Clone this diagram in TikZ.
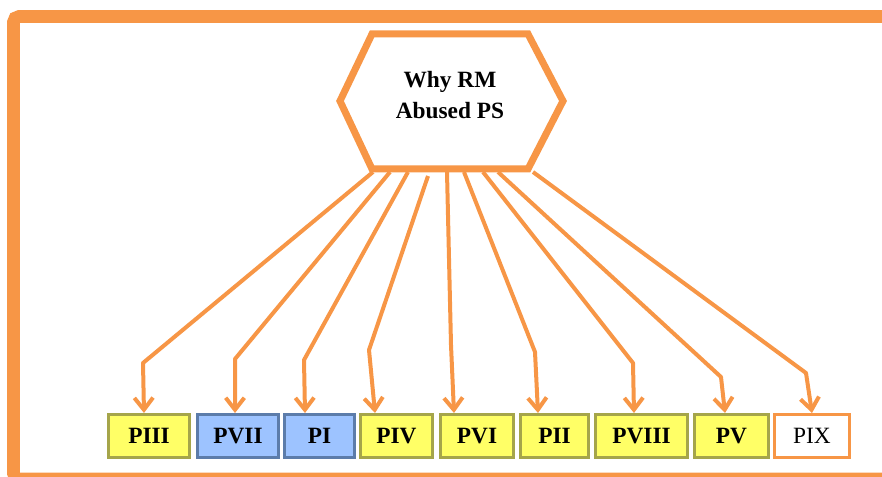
\documentclass[tikz,border=0pt]{standalone}
\usepackage{fontspec}
\setmainfont{Liberation Serif}
\usetikzlibrary{arrows.meta}
\definecolor{orng}{HTML}{F79646}
\definecolor{yfill}{HTML}{FFFF66}
\definecolor{ydraw}{HTML}{A5A54A}
\definecolor{bfill}{HTML}{9DC3FF}
\definecolor{bdraw}{HTML}{5C7CAA}
\tikzset{
  box/.style={draw, line width=2.25pt, inner sep=0pt, minimum height=32.25pt,
    font=\fontsize{17.5}{19}\selectfont\bfseries},
  ybox/.style={box, fill=yfill, draw=ydraw},
  bbox/.style={box, fill=bfill, draw=bdraw},
  wbox/.style={box, fill=white, draw=orng, font=\fontsize{17.5}{19}\selectfont},
  conn/.style={draw=orng, line width=3pt, line join=round,
    -{Straight Barb[length=9pt,width=14pt,line width=3pt]}},
}
\begin{document}
\begin{tikzpicture}[x=0.75pt,y=-0.75pt]
\useasboundingbox (0,0) rectangle (882,477);
\begin{scope}
\clip (0,0) rectangle (882,477);
\draw[orng, line width=9.4pt, rounded corners=4pt] (13.5,16.5) rectangle (900,479);
\end{scope}
% hexagon
\draw[orng, line width=5.25pt, line join=miter, fill=white]
  (372,34) -- (528,34) -- (563,101) -- (528,169) -- (372,169) -- (340,101) -- cycle;
\node[align=center, font=\fontsize{17.5}{23}\selectfont\bfseries] (hex) at (450,95) {Why RM\\Abused PS};
% boxes
\node[ybox, minimum width=60.75pt] (PIII) at (149,436) {PIII};
\node[bbox, minimum width=60.75pt] (PVII) at (238,436) {PVII};
\node[bbox, minimum width=52.5pt] (PI) at (319.5,436) {PI};
\node[ybox, minimum width=54pt] (PIV) at (396.5,436) {PIV};
\node[ybox, minimum width=54.75pt] (PVI) at (477,436) {PVI};
\node[ybox, minimum width=51pt] (PII) at (554.5,436) {PII};
\node[ybox, minimum width=69pt] (PVIII) at (641.5,436) {PVIII};
\node[ybox, minimum width=55.5pt] (PV) at (731.5,436) {PV};
\node[wbox, minimum width=56.25pt] (PIX) at (812,436) {PIX};
% connector coordinates
\coordinate (s1) at (373,172); \coordinate (b1) at (143,363); \coordinate (t1) at (144,413);
\coordinate (s2) at (390,172); \coordinate (b2) at (235,359); \coordinate (t2) at (235,413);
\coordinate (s3) at (408,172); \coordinate (b3) at (304,360); \coordinate (t3) at (305,413);
\coordinate (s4) at (428,176); \coordinate (b4) at (369,350); \coordinate (t4) at (375,413);
\coordinate (s5) at (447,172); \coordinate (b5) at (451,345); \coordinate (t5) at (454,413);
\coordinate (s6) at (464,172); \coordinate (b6) at (535,352); \coordinate (t6) at (538,413);
\coordinate (s7) at (483,172); \coordinate (b7) at (633,363); \coordinate (t7) at (634,413);
\coordinate (s8) at (498,172); \coordinate (b8) at (721,377); \coordinate (t8) at (725,413);
\coordinate (s9) at (533,172); \coordinate (b9) at (806,373); \coordinate (t9) at (812,413);
\draw[conn] (s1) -- (b1) -- (t1 |- PIII.north);
\draw[conn] (s2) -- (b2) -- (t2 |- PVII.north);
\draw[conn] (s3) -- (b3) -- (t3 |- PI.north);
\draw[conn] (s4) -- (b4) -- (t4 |- PIV.north);
\draw[conn] (s5) -- (b5) -- (t5 |- PVI.north);
\draw[conn] (s6) -- (b6) -- (t6 |- PII.north);
\draw[conn] (s7) -- (b7) -- (t7 |- PVIII.north);
\draw[conn] (s8) -- (b8) -- (t8 |- PV.north);
\draw[conn] (s9) -- (b9) -- (t9 |- PIX.north);
\end{tikzpicture}
\end{document}
